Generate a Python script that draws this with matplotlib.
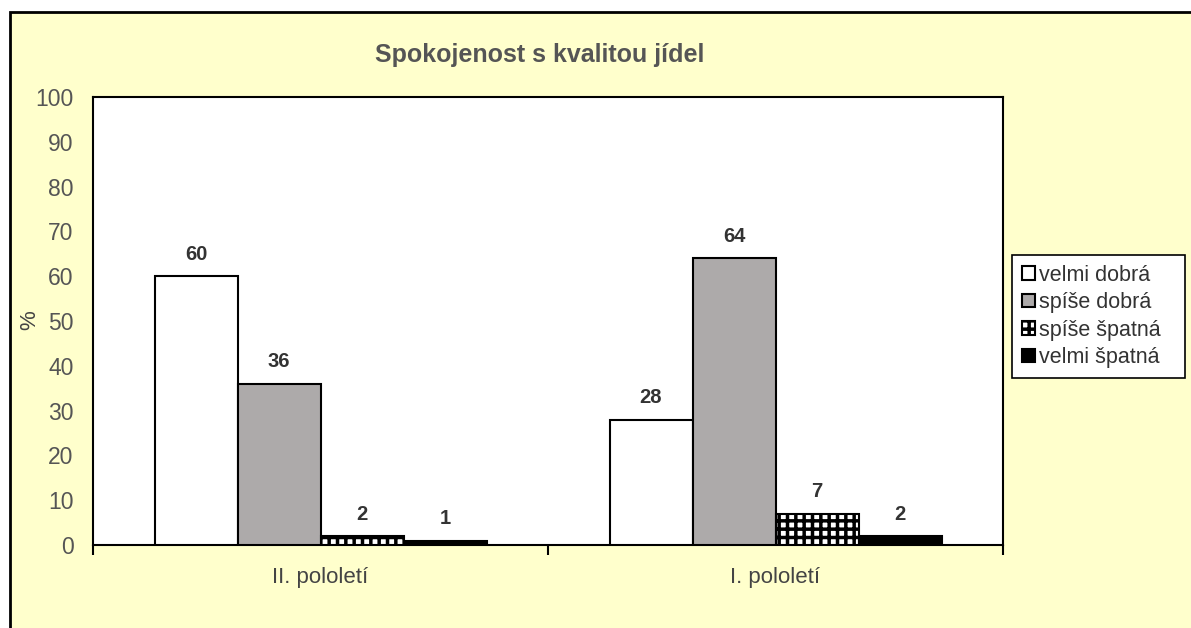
import matplotlib.pyplot as plt
import matplotlib.patches as mpatches
import numpy as np

plt.rcParams['font.family'] = ['Liberation Sans', 'DejaVu Sans']
plt.rcParams['hatch.linewidth'] = 2.5

# data
categories = ['II. pololetí', 'I. pololetí']
series_names = ['velmi dobrá', 'spíše dobrá', 'spíše špatná', 'velmi špatná']
values = [
    [60, 28],   # velmi dobrá
    [36, 64],   # spíše dobrá
    [2, 7],     # spíše špatná
    [1, 2],     # velmi špatná
]
yticks = list(range(0, 101, 10))

faces = ['white', '#ADAAAA', 'white', 'black']
hatches = [None, None, '++', None]

fig = plt.figure(figsize=(11.91, 6.28), dpi=100)
fig.patch.set_facecolor('white')

# pale yellow chart area with black border
bg = mpatches.Rectangle((10 / 1191, -0.1), 1.2, 1 - 12 / 628 + 0.1,
                        transform=fig.transFigure, facecolor='#FFFFCC',
                        edgecolor='black', linewidth=2, zorder=-10)
fig.patches.append(bg)

ax = fig.add_axes([93 / 1191, 1 - 545 / 628, 910 / 1191, 448 / 628])
ax.set_facecolor('white')

x = np.arange(len(categories))
w = 83 / 455
for i, name in enumerate(series_names):
    xs = x + (i - 1.5) * w
    bars = ax.bar(xs, values[i], width=w, color=faces[i], edgecolor='black',
                  linewidth=1.5, hatch=hatches[i], label=name, zorder=3)
    for b, v in zip(bars, values[i]):
        ax.annotate(str(v), (b.get_x() + b.get_width() / 2, v),
                    xytext=(0, 9), textcoords='offset points',
                    ha='center', va='bottom', fontsize=14.5,
                    fontweight='bold', color='#333333')

ax.set_xlim(-0.5, 1.5)
ax.set_ylim(0, 100)
ax.set_yticks(yticks)
ax.tick_params(axis='y', length=0, pad=14, labelsize=16.5, labelcolor='#555555')

# category labels in centre, tick marks on boundaries
ax.set_xticks(x)
ax.set_xticklabels(categories)
ax.tick_params(axis='x', length=0, pad=16, labelsize=16, labelcolor='#444444')
ax.set_xticks([-0.5, 0.5, 1.5], minor=True)
ax.tick_params(axis='x', which='minor', length=7, width=1.5, direction='out')

for s in ax.spines.values():
    s.set_linewidth(1.5)
    s.set_color('black')

fig.text(30 / 1191, 1 - 320 / 628, '%', rotation=90, ha='center', va='center',
         fontsize=16, color='#444444')

fig.text(539.5 / 1191, 1 - 55 / 628, 'Spokojenost s kvalitou jídel',
         ha='center', va='center', fontsize=18, fontweight='bold',
         color='#555555')

leg = ax.legend(loc='upper left',
                bbox_to_anchor=(1012 / 1191, 1 - 368 / 628, 173 / 1191, 113 / 628),
                bbox_transform=fig.transFigure, mode='expand', fontsize=15.5,
                frameon=True, fancybox=False, edgecolor='black', framealpha=1,
                handlelength=0.6, handleheight=0.6, handletextpad=0.2,
                borderpad=0.45, labelspacing=0.3, borderaxespad=0)
leg.get_frame().set_linewidth(1.2)
for t in leg.get_texts():
    t.set_color('#333333')

fig.savefig('out.png', dpi=100)
